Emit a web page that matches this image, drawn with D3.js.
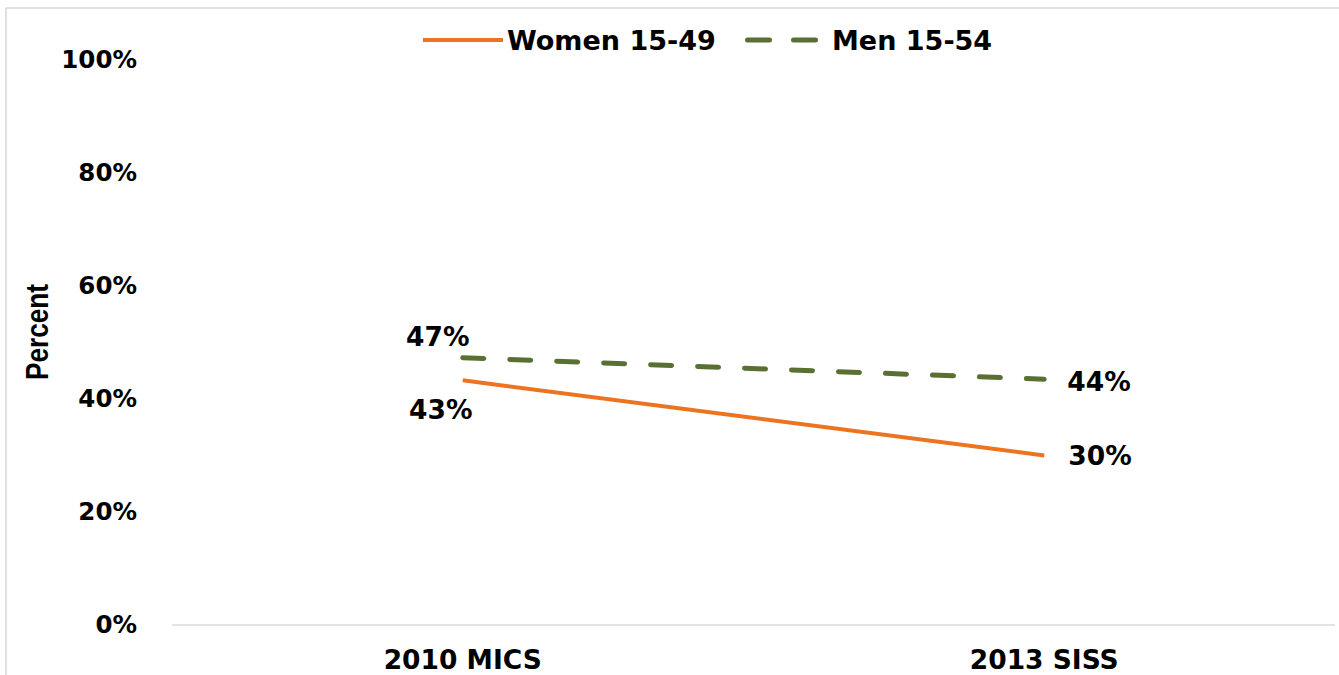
<!DOCTYPE html>
<html lang="en">
  <head>
    <meta charset="UTF-8" />
    <title>Women and Men 15-49/15-54</title>
    <script src="https://d3js.org/d3.v7.min.js"></script>
    <style>
      body {
        margin: 0;
        background: #fff;
      }
      .tick text,
      .lbl,
      .legend text {
        font-family: "DejaVu Sans", Verdana, sans-serif;
        font-weight: bold;
        fill: #000;
      }
    </style>
  </head>
  <body>
    <svg id="chart" width="1339" height="675"></svg>

    <script>
      const categories = ["2010 MICS", "2013 SISS"];
      const women = [43.3, 30];
      const men = [47.3, 43.5];
      const womenLabels = ["43%", "30%"];
      const menLabels = ["47%", "44%"];
      const yTicks = [0, 20, 40, 60, 80, 100];

      const svg = d3.select("#chart");
      const plotLeft = 172,
        plotRight = 1335,
        plotTop = 60,
        plotBottom = 625;
      const orange = "#EC7420",
        green = "#5A7032";

      // frame (only top and left edges visible in the source)
      svg.append("line").attr("x1", 6).attr("x2", 1339).attr("y1", 8).attr("y2", 8)
        .attr("stroke", "#d6d6d6").attr("stroke-width", 1.5);
      svg.append("line").attr("x1", 6).attr("x2", 6).attr("y1", 8).attr("y2", 675)
        .attr("stroke", "#d6d6d6").attr("stroke-width", 1.5);

      const x = d3.scaleBand().domain(categories).range([plotLeft, plotRight]);
      const y = d3.scaleLinear().domain([0, 100]).range([plotBottom, plotTop]);
      const cx = (c) => x(c) + x.bandwidth() / 2;

      // y axis labels
      const yAxis = svg
        .append("g")
        .attr("transform", `translate(${plotLeft},0)`)
        .call(d3.axisLeft(y).tickValues(yTicks).tickFormat((d) => d + "%").tickSize(0).tickPadding(35));
      yAxis.select(".domain").remove();
      yAxis.selectAll("text").style("font-size", "24.5px");

      // baseline
      svg.append("line").attr("x1", plotLeft).attr("x2", plotRight)
        .attr("y1", y(0)).attr("y2", y(0))
        .attr("stroke", "#c8c8c8").attr("stroke-width", 1);

      // x axis labels
      const xAxis = svg
        .append("g")
        .attr("transform", `translate(0,${plotBottom})`)
        .call(d3.axisBottom(x).tickSize(0).tickPadding(25));
      xAxis.select(".domain").remove();
      xAxis.selectAll("text").style("font-size", "26.5px");

      svg.append("text")
        .attr("transform", `translate(48,332) rotate(-90) scale(0.82,1)`)
        .attr("text-anchor", "middle")
        .style("font-family", "'Liberation Sans', Arial, sans-serif")
        .style("font-weight", "bold")
        .style("font-size", "32px")
        .text("Percent");

      const line = d3.line().x((d, i) => cx(categories[i])).y((d) => y(d));

      svg.append("path").datum(women).attr("d", line)
        .attr("fill", "none").attr("stroke", orange).attr("stroke-width", 4);
      svg.append("path").datum(men).attr("d", line)
        .attr("fill", "none").attr("stroke", green).attr("stroke-width", 5)
        .attr("stroke-dasharray", "21 26").attr("stroke-linecap", "round");

      // data labels
      const fs = "26.5px";
      svg.append("text").attr("class", "lbl").attr("x", cx(categories[0]) - 25).attr("y", y(men[0]) - 12)
        .attr("text-anchor", "middle").style("font-size", fs).text(menLabels[0]);
      svg.append("text").attr("class", "lbl").attr("x", cx(categories[0]) - 22).attr("y", y(women[0]) + 39)
        .attr("text-anchor", "middle").style("font-size", fs).text(womenLabels[0]);
      svg.append("text").attr("class", "lbl").attr("x", cx(categories[1]) + 23).attr("y", y(men[1]) + 12)
        .attr("text-anchor", "start").style("font-size", fs).text(menLabels[1]);
      svg.append("text").attr("class", "lbl").attr("x", cx(categories[1]) + 24).attr("y", y(women[1]) + 9)
        .attr("text-anchor", "start").style("font-size", fs).text(womenLabels[1]);

      // legend
      const lg = svg.append("g").attr("class", "legend");
      lg.append("line").attr("x1", 423).attr("x2", 503).attr("y1", 40).attr("y2", 40)
        .attr("stroke", orange).attr("stroke-width", 4);
      lg.append("text").attr("x", 507).attr("y", 50).style("font-size", "27px").text("Women 15-49");
      lg.append("line").attr("x1", 747.5).attr("x2", 815.5).attr("y1", 40).attr("y2", 40)
        .attr("stroke", green).attr("stroke-width", 5)
        .attr("stroke-dasharray", "22 24").attr("stroke-linecap", "round");
      lg.append("text").attr("x", 832).attr("y", 50).style("font-size", "27px").text("Men 15-54");
    </script>
  </body>
</html>
